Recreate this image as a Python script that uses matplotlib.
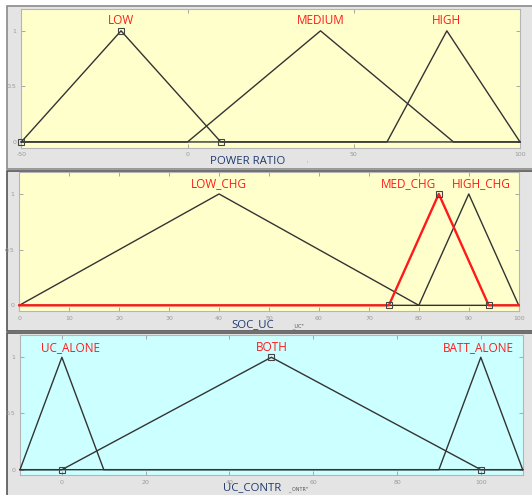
import matplotlib
matplotlib.use('Agg')
import matplotlib.pyplot as plt
from matplotlib.patches import Rectangle

plt.rcParams['axes.unicode_minus'] = False

W, H = 532, 495

# membership function data (triangular: a, b, c)
power_range = [-50, 100]
power_names = ['LOW', 'MEDIUM', 'HIGH']
power_params = [[-50, -20, 10], [0, 40, 80], [60, 78, 100]]

soc_range = [0, 100]
soc_names = ['LOW_CHG', 'MED_CHG', 'HIGH_CHG']
soc_params = [[0, 40, 80], [74, 84, 94], [80, 90, 100]]

contr_range = [-10, 110]
contr_names = ['UC_ALONE', 'BOTH', 'BATT_ALONE']
contr_params = [[-10, 0, 10], [0, 50, 100], [90, 100, 110]]

# label x positions (data units)
power_label_x = [-20, 40, 78]
soc_label_x = [40, 78, 92.5]
contr_label_x = [2, 50, 99.5]

_FRAME = '#e4e4e4'
_FRAME_EDGE = '#8a8a8a'
_LINE = '#333333'
_RED = '#ff1a1a'
_TICK = '#9a9a9a'
_NAVY = '#1f3a6e'


def px_axes(fig, x0, y0, x1, y1):
    ax = fig.add_axes([x0 / W, 1 - y1 / H, (x1 - x0) / W, (y1 - y0) / H])
    ax.set_zorder(2)
    return ax


def frame(fig, x0, y0, x1, y1, edge=_FRAME_EDGE):
    fig.patches.append(Rectangle((x0 / W, 1 - y1 / H), (x1 - x0) / W, (y1 - y0) / H,
                                 transform=fig.transFigure, facecolor=_FRAME,
                                 edgecolor=edge, linewidth=1.2, zorder=-5))


def draw_panel(ax, rng, names, params, label_x, xticks, face, sel, sel_red):
    ax.set_facecolor(face)
    ax.set_xlim(rng)
    ax.set_ylim(-0.05, 1.2)
    for i, (name, p) in enumerate(zip(names, params)):
        xs = [rng[0], p[0], p[1], p[2], rng[1]]
        ys = [0, 0, 1, 0, 0]
        if i == sel and sel_red:
            ax.plot(xs, ys, color=_RED, lw=1.7, zorder=4, clip_on=False)
        else:
            ax.plot(xs, ys, color=_LINE, lw=1.0, zorder=3, clip_on=False)
        if i == sel:
            ax.plot(p, [0, 1, 0], ls='none', marker='s', ms=4, mfc='none',
                    mec='#444444', mew=0.8, zorder=5, clip_on=False)
        ax.text(label_x[i], 1.09, name, color=_RED, fontsize=8.5,
                family='Open Sans', ha='center', va='center')
    ax.set_xticks(xticks)
    ax.set_yticks([0, 0.5, 1])
    ax.set_yticklabels(['0', '0.5', '1'])
    ax.tick_params(direction='in', length=3, width=0.6, color=_TICK,
                   labelcolor=_TICK, labelsize=4.5, top=True, right=True, pad=3.5)
    for s in ax.spines.values():
        s.set_color('#b5b5b5')
        s.set_linewidth(0.8)


fig = plt.figure(figsize=(W / 100, H / 100), dpi=100)
fig.patch.set_facecolor('white')

frame(fig, 7, 6, 534, 169)
frame(fig, 7, 171, 534, 331, edge='#555555')
frame(fig, 7, 333, 534, 497, edge='#555555')

ax1 = px_axes(fig, 21.3, 8.6, 520, 147.5)
draw_panel(ax1, power_range, power_names, power_params, power_label_x,
           [-50, 0, 50, 100], '#ffffcc', 0, False)

ax2 = px_axes(fig, 19.3, 171.7, 518.7, 310.9)
draw_panel(ax2, soc_range, soc_names, soc_params, soc_label_x,
           list(range(0, 101, 10)), '#ffffcc', 1, True)

ax3 = px_axes(fig, 20, 334.8, 522.7, 475.3)
draw_panel(ax3, contr_range, contr_names, contr_params, contr_label_x,
           list(range(0, 101, 20)), '#ccffff', 1, False)

# axis titles (drawn over the tick labels like the original)
title_kw = dict(color=_NAVY, fontsize=8.2, family='Open Sans', ha='center',
                va='center', zorder=5)
fig.text(248 / W, 1 - 162 / H, 'POWER RATIO', **title_kw)
fig.text(307 / W, 1 - 163 / H, "'", color=_TICK, fontsize=4, ha='center', va='center')
fig.text(253 / W, 1 - 325 / H, 'SOC_UC', **title_kw)
fig.text(298 / W, 1 - 326 / H, '_UC"', color='#555555', fontsize=3.5,
         ha='center', va='center')
fig.text(252 / W, 1 - 488 / H, 'UC_CONTR', **title_kw)
fig.text(298 / W, 1 - 489 / H, '_ ONTR"', color='#555555', fontsize=3.5,
         ha='center', va='center')

fig.savefig('out.png', dpi=100)
